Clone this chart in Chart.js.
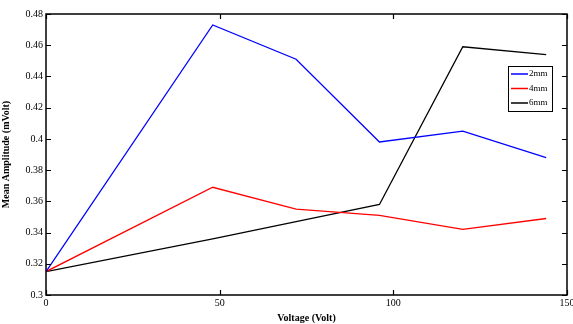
<!DOCTYPE html>
<html>
<head>
<meta charset="utf-8">
<script src="https://cdn.jsdelivr.net/npm/chart.js@4/dist/chart.umd.min.js"></script>
<style>
  html, body { margin: 0; padding: 0; background: #fff; }
  #wrap { width: 573px; height: 324px; position: relative; }
</style>
</head>
<body>
<div id="wrap"><canvas id="c"></canvas></div>
<script>
// data
const voltage = [0, 48, 72, 96, 120, 144];
const amp2mm  = [0.315, 0.473, 0.451, 0.398, 0.405, 0.388];
const amp4mm  = [0.315, 0.369, 0.355, 0.351, 0.342, 0.349];
const amp6mm  = [0.315, 0.336, 0.347, 0.358, 0.459, 0.454];
const seriesNames = ['2mm', '4mm', '6mm'];
const xTicks = [0, 50, 100, 150];
const yTicks = [0.3, 0.32, 0.34, 0.36, 0.38, 0.4, 0.42, 0.44, 0.46, 0.48];

const serif = '"Liberation Serif", "DejaVu Serif", serif';
const pts = (ys) => voltage.map((x, i) => ({ x, y: ys[i] }));

// inward ticks on all four sides (matlab style box)
const boxTicks = {
  id: 'boxTicks',
  afterDraw(chart) {
    const { ctx, chartArea: a, scales } = chart;
    const len = 5;
    ctx.save();
    ctx.strokeStyle = '#000';
    ctx.lineWidth = 1.2;
    ctx.beginPath();
    xTicks.forEach(v => {
      const px = Math.round(scales.x.getPixelForValue(v)) + 0.5;
      ctx.moveTo(px, a.bottom); ctx.lineTo(px, a.bottom - len);
      ctx.moveTo(px, a.top); ctx.lineTo(px, a.top + len);
    });
    yTicks.forEach(v => {
      const py = Math.round(scales.y.getPixelForValue(v)) + 0.5;
      ctx.moveTo(a.left, py); ctx.lineTo(a.left + len, py);
      ctx.moveTo(a.right, py); ctx.lineTo(a.right - len, py);
    });
    ctx.stroke();
    ctx.lineWidth = 1.5;
    ctx.strokeRect(a.left, a.top, a.right - a.left, a.bottom - a.top);
    ctx.restore();
  }
};

// legend box inside the plot, top right
const boxLegend = {
  id: 'boxLegend',
  afterDraw(chart) {
    const { ctx, chartArea: a } = chart;
    const w = 44, h = 45;
    const x0 = a.right - 59, y0 = a.top + 52;
    ctx.save();
    ctx.fillStyle = '#fff';
    ctx.fillRect(x0, y0, w, h);
    ctx.strokeStyle = '#000';
    ctx.lineWidth = 1;
    ctx.strokeRect(x0 + 0.5, y0 + 0.5, w, h);
    ctx.font = '9px ' + serif;
    ctx.textBaseline = 'middle';
    chart.data.datasets.forEach((ds, i) => {
      const yy = y0 + 8 + i * 14.5;
      ctx.strokeStyle = ds.borderColor;
      ctx.lineWidth = 1.5;
      ctx.beginPath();
      ctx.moveTo(x0 + 3, yy); ctx.lineTo(x0 + 20, yy);
      ctx.stroke();
      ctx.fillStyle = '#000';
      ctx.fillText(ds.label, x0 + 21, yy);
    });
    ctx.restore();
  }
};

new Chart(document.getElementById('c'), {
  type: 'line',
  data: {
    datasets: [
      { label: seriesNames[0], data: pts(amp2mm), borderColor: '#0000ff' },
      { label: seriesNames[1], data: pts(amp4mm), borderColor: '#ff0000' },
      { label: seriesNames[2], data: pts(amp6mm), borderColor: '#000000' }
    ].map(d => ({ ...d, borderWidth: 1.3, pointRadius: 0, tension: 0, fill: false }))
  },
  options: {
    responsive: true,
    maintainAspectRatio: false,
    animation: false,
    layout: { padding: { left: 0, right: 6, top: 14, bottom: 0 } },
    plugins: { legend: { display: false }, tooltip: { enabled: false } },
    scales: {
      x: {
        type: 'linear', min: 0, max: 150,
        afterBuildTicks: s => { s.ticks = xTicks.map(v => ({ value: v })); },
        afterFit: s => { s.height = 29; s.paddingLeft = 0; s.paddingRight = 0; },
        grid: { display: false, drawTicks: false },
        border: { display: false },
        ticks: { color: '#000', font: { family: serif, size: 10 }, padding: 2, maxRotation: 0 },
        title: { display: true, text: 'Voltage (Volt)', color: '#000', font: { family: serif, size: 10, weight: 'bold' }, padding: { top: 0, bottom: 0 } }
      },
      y: {
        type: 'linear', min: 0.3, max: 0.48,
        afterBuildTicks: s => { s.ticks = yTicks.map(v => ({ value: v })); },
        afterFit: s => { s.width = 46; },
        grid: { display: false, drawTicks: false },
        border: { display: false },
        ticks: { color: '#000', font: { family: serif, size: 10 }, padding: 3, callback: v => String(+v.toFixed(2)) },
        title: { display: true, text: 'Mean Amplitude (mVolt)', color: '#000', font: { family: serif, size: 10, weight: 'bold' }, padding: { top: 0, bottom: 2 } }
      }
    }
  },
  plugins: [boxTicks, boxLegend]
});
</script>
</body>
</html>
